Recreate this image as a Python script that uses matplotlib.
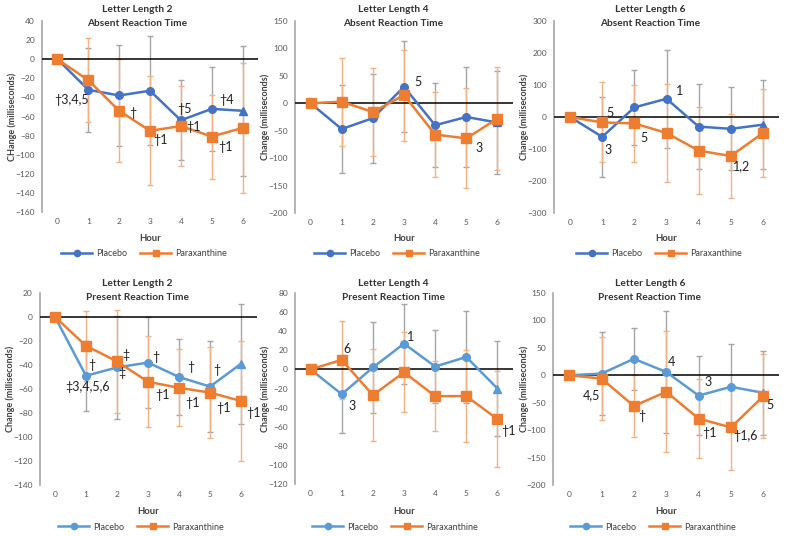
import numpy as np
import matplotlib.pyplot as plt

plt.rcParams['font.family'] = ['Lato', 'DejaVu Sans']

W, H = 785, 536
hours = [0, 1, 2, 3, 4, 5, 6]

# Letter length 2 - absent
ll2_abs_placebo = [0, -32, -38, -33, -64, -52, -54]
ll2_abs_placebo_err = [0, 44, 53, 57, 42, 44, 68]
ll2_abs_para = [0, -22, -54, -75, -70, -81, -72]
ll2_abs_para_err = [0, 44, 54, 57, 42, 44, 68]

# Letter length 4 - absent
ll4_abs_placebo = [0, -47, -27, 30, -40, -25, -35]
ll4_abs_placebo_err = [0, 80, 81, 83, 77, 91, 93]
ll4_abs_para = [0, 3, -16, 15, -57, -64, -28]
ll4_abs_para_err = [0, 80, 81, 83, 77, 91, 94]

# Letter length 6 - absent
ll6_abs_placebo = [0, -62, 30, 57, -30, -37, -24]
ll6_abs_placebo_err = [0, 125, 118, 153, 134, 130, 139]
ll6_abs_para = [0, -17, -20, -50, -105, -122, -50]
ll6_abs_para_err = [0, 125, 120, 154, 135, 130, 139]

# Letter length 2 - present
ll2_pre_placebo = [0, -49, -42, -38, -50, -58, -39]
ll2_pre_placebo_err = [0, 29, 43, 38, 32, 38, 50]
ll2_pre_para = [0, -24, -37, -54, -59, -63, -70]
ll2_pre_para_err = [0, 29, 43, 38, 32, 38, 50]

# Letter length 4 - present
ll4_pre_placebo = [0, -26, 2, 27, 3, 13, -20]
ll4_pre_placebo_err = [0, 41, 48, 42, 38, 48, 50]
ll4_pre_para = [0, 10, -27, -3, -28, -28, -52]
ll4_pre_para_err = [0, 41, 48, 42, 37, 48, 50]

# Letter length 6 - present
ll6_pre_placebo = [0, 3, 30, 6, -37, -21, -32]
ll6_pre_placebo_err = [0, 76, 57, 111, 72, 78, 76]
ll6_pre_para = [0, -6, -56, -30, -79, -95, -38]
ll6_pre_para_err = [0, 76, 56, 110, 72, 78, 76]

# significance labels (hour, value, text)
ll2_abs_notes = [(-0.1, -43, "†3,4,5"), (2.33, -56, "†"), (3.1, -85, "†1"),
                 (3.87, -52, "†5"), (4.18, -71, "†1"), (5.23, -43, "†4"),
                 (5.2, -92, "†1")]
ll4_abs_notes = [(3.32, 38, "5"), (5.3, -82, "3")]
ll6_abs_notes = [(1.14, 14, "5"), (1.07, -102, "3"), (2.19, -66, "5"),
                 (3.29, 81, "1"), (5.07, -153, "1,2")]
ll2_pre_notes = [(0.32, -58, "‡3,4,5,6"), (1.08, -40, "†"), (2.18, -32, "‡"),
                 (2.04, -47, "‡"), (3.14, -33, "†"), (3.23, -65, "†1"),
                 (4.25, -42, "†"), (4.19, -72, "†1"), (5.11, -44, "†"),
                 (5.2, -76, "†1"), (6.18, -80, "†1")]
ll4_pre_notes = [(1.05, 21, "6"), (1.21, -38, "3"), (3.08, 34, "1"), (6.13, -64, "†1")]
ll6_pre_notes = [(0.43, -36, "4,5"), (2.13, -74, "†"), (3.06, 25, "4"),
                 (4.18, -12, "3"), (4.1, -106, "†1"), (5.07, -110, "†1,6"),
                 (6.1, -55, "5")]

panels = [
    dict(box=(42, 258, 21, 212), ylim=(-160, 40), step=20, title=("Letter Length 2", "Absent Reaction Time"),
         ylabel="CHange (milliseconds)", tx=137, ylx=12, lgx=144, row=0,
         pl=ll2_abs_placebo, ple=ll2_abs_placebo_err, pa=ll2_abs_para, pae=ll2_abs_para_err, notes=ll2_abs_notes),
    dict(box=(295, 513, 21, 213), ylim=(-200, 150), step=50, title=("Letter Length 4", "Absent Reaction Time"),
         ylabel="Change (milliseconds)", tx=393, ylx=265, lgx=397, row=0,
         pl=ll4_abs_placebo, ple=ll4_abs_placebo_err, pa=ll4_abs_para, pae=ll4_abs_para_err, notes=ll4_abs_notes),
    dict(box=(554, 779, 21, 213), ylim=(-300, 300), step=100, title=("Letter Length 6", "Absent Reaction Time"),
         ylabel="Change (milliseconds)", tx=650, ylx=524, lgx=659, row=0,
         pl=ll6_abs_placebo, ple=ll6_abs_placebo_err, pa=ll6_abs_para, pae=ll6_abs_para_err, notes=ll6_abs_notes),
    dict(box=(39.5, 256.5, 293, 485), ylim=(-140, 20), step=20, title=("Letter Length 2", "Present Reaction Time"),
         ylabel="Change (milliseconds)", tx=137, ylx=10, lgx=141, row=1,
         pl=ll2_pre_placebo, ple=ll2_pre_placebo_err, pa=ll2_pre_para, pae=ll2_pre_para_err, notes=ll2_pre_notes),
    dict(box=(295, 513, 293, 484), ylim=(-120, 80), step=20, title=("Letter Length 4", "Present Reaction Time"),
         ylabel="Change (milliseconds)", tx=393, ylx=265, lgx=395, row=1,
         pl=ll4_pre_placebo, ple=ll4_pre_placebo_err, pa=ll4_pre_para, pae=ll4_pre_para_err, notes=ll4_pre_notes),
    dict(box=(553, 779.5, 293, 485), ylim=(-200, 150), step=50, title=("Letter Length 6", "Present Reaction Time"),
         ylabel="Change (milliseconds)", tx=650, ylx=524, lgx=653, row=1,
         pl=ll6_pre_placebo, ple=ll6_pre_placebo_err, pa=ll6_pre_para, pae=ll6_pre_para_err, notes=ll6_pre_notes),
]

orange = "#ED7D31"
orange_err = "#F4B183"
gray_err = "#A5A5A5"

fig = plt.figure(figsize=(W / 100, H / 100), dpi=100)

def fx(x):
    return x / W

def fy(y):
    return 1 - y / H

for p in panels:
    l, r, t, b = p["box"]
    ax = fig.add_axes([fx(l), fy(b), (r - l) / W, (b - t) / H])
    blue = "#4472C4" if p["row"] == 0 else "#5B9BD5"
    x = np.array(hours)

    ax.errorbar(x, p["pl"], yerr=p["ple"], fmt="none", ecolor=gray_err, elinewidth=1.0,
                capsize=2.5, capthick=1.0, zorder=2)
    ax.errorbar(x, p["pa"], yerr=p["pae"], fmt="none", ecolor=orange_err, elinewidth=1.0,
                capsize=2.5, capthick=1.0, zorder=2)
    ax.axhline(0, color="black", lw=1.1, zorder=3)

    ax.plot(x, p["pl"], color=blue, lw=1.8, zorder=4)
    ax.plot(x[:-1], p["pl"][:-1], "o", color=blue, ms=5.5, zorder=4)
    ax.plot(x[-1:], p["pl"][-1:], "^", color=blue, ms=6, zorder=4)
    ax.plot(x, p["pa"], color=orange, lw=1.8, marker="s", ms=6.5, zorder=5)

    ax.set_xlim(-0.5, 6.5)
    ax.set_ylim(*p["ylim"])
    ax.set_xticks(hours)
    ax.set_yticks(np.arange(p["ylim"][0], p["ylim"][1] + 1, p["step"]))
    ax.tick_params(length=0, labelsize=6, colors="#595959", pad=4)
    ax.tick_params(axis="y", pad=5)
    for s in ["top", "right", "bottom"]:
        ax.spines[s].set_visible(False)
    ax.spines["left"].set_color("#A6A6A6")
    ax.spines["left"].set_linewidth(1.2)
    ax.patch.set_alpha(0)

    for hx, hy, txt in p["notes"]:
        ax.text(hx, hy, txt, fontsize=9, ha="left", va="center", color="#222222", zorder=6)

    # titles and labels
    ty = 10 if p["row"] == 0 else 283
    fig.text(fx(p["tx"]), fy(ty), p["title"][0], ha="center", va="center", fontsize=7.3,
             fontweight="bold", color="#333333")
    fig.text(fx(p["tx"]), fy(ty + 14), p["title"][1], ha="center", va="center", fontsize=7.3,
             fontweight="bold", color="#333333")
    fig.text(fx((l + r) / 2), fy(239 if p["row"] == 0 else 512), "Hour", ha="center", va="center",
             fontsize=6.8, fontweight="bold", color="#404040")
    fig.text(fx(p["ylx"]), fy((t + b) / 2), p["ylabel"], ha="center", va="center", rotation=90,
             fontsize=6.5, fontweight="bold", color="#404040")

    h1, = ax.plot([], [], color=blue, lw=1.8, marker="o", ms=4.5)
    h2, = ax.plot([], [], color=orange, lw=1.8, marker="s", ms=5)
    ax.legend([h1, h2], ["Placebo", "Paraxanthine"], loc="center", ncol=2,
              bbox_to_anchor=(fx(p["lgx"]), fy(254 if p["row"] == 0 else 527)),
              bbox_transform=fig.transFigure, frameon=False, fontsize=6.5,
              handlelength=3.4, columnspacing=1.5, handletextpad=0.4,
              labelcolor="#404040")

fig.savefig("out.png", dpi=100)
